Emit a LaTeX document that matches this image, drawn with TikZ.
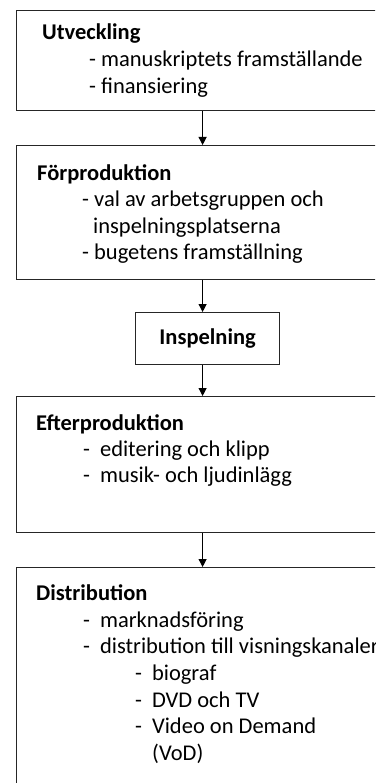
\documentclass[tikz,border=0pt]{standalone}
\usepackage{fontspec}
\setmainfont{Carlito}
\usetikzlibrary{arrows.meta}
\begin{document}
\begin{tikzpicture}[x=1pt,y=-1pt,
  box/.style={draw=black!85,line width=1.2pt,anchor=north west,inner sep=0pt},
  txt/.style={anchor=base west,inner sep=0pt,font=\fontsize{22.5}{26}\selectfont},
  head/.style={txt,font=\fontsize{22.5}{26}\selectfont\bfseries},
  arr/.style={line width=1.1pt,-{Triangle[width=8pt,length=8pt]}}]
\useasboundingbox (0,0) rectangle (375,783);
\clip (0,0) rectangle (375,783);
% boxes
\node[box,minimum width=372pt,minimum height=100pt] (b1) at (16,10) {};
\node[box,minimum width=372pt,minimum height=134pt] (b2) at (16,145) {};
\node[box,minimum width=144pt,minimum height=52pt] (b3) at (135,312) {};
\node[box,minimum width=372pt,minimum height=136pt] (b4) at (16,396) {};
\node[box,minimum width=372pt,minimum height=230pt] (b5) at (16,567) {};
% arrows
\draw[arr] (b1.south) -- (b2.north);
\draw[arr] (b2.south) -- (b2.south |- b3.north);
\draw[arr] (b2.south |- b3.south) -- (b4.north);
\draw[arr] (b4.south) -- (b5.north);
% texts box 1
\node[head] (t1) at (42,40) {Utveckling};
\node[txt] (t1a) at (89,67) {- manuskriptets framställande};
\node[txt] (t1b) at (89,94) {- finansiering};
% box 2
\node[head] (t2) at (37,181) {Förproduktion};
\node[txt] (t2a) at (82,207) {- val av arbetsgruppen och};
\node[txt] (t2b) at (93,234) {inspelningsplatserna};
\node[txt] (t2c) at (82,260) {- bugetens framställning};
% box 3
\node[head,anchor=center] (t3) at (b3.center) {Inspelning};
% box 4
\node[head] (t4) at (36,430) {Efterproduktion};
\node[txt] (t4a) at (83,456) {-\hspace{10pt}editering och klipp};
\node[txt] (t4b) at (83,482) {-\hspace{10pt}musik- och ljudinlägg};
% box 5
\node[head] (t5) at (36,600) {Distribution};
\node[txt] (t5a) at (83,627) {-\hspace{10pt}marknadsföring};
\node[txt] (t5b) at (83,653) {-\hspace{10pt}distribution till visningskanaler};
\node[txt] (t5c) at (135,680) {-\hspace{10pt}biograf};
\node[txt] (t5d) at (135,707) {-\hspace{10pt}DVD och TV};
\node[txt] (t5e) at (135,733) {-\hspace{10pt}Video on Demand};
\node[txt] (t5f) at (152,760) {(VoD)};
\end{tikzpicture}
\end{document}
